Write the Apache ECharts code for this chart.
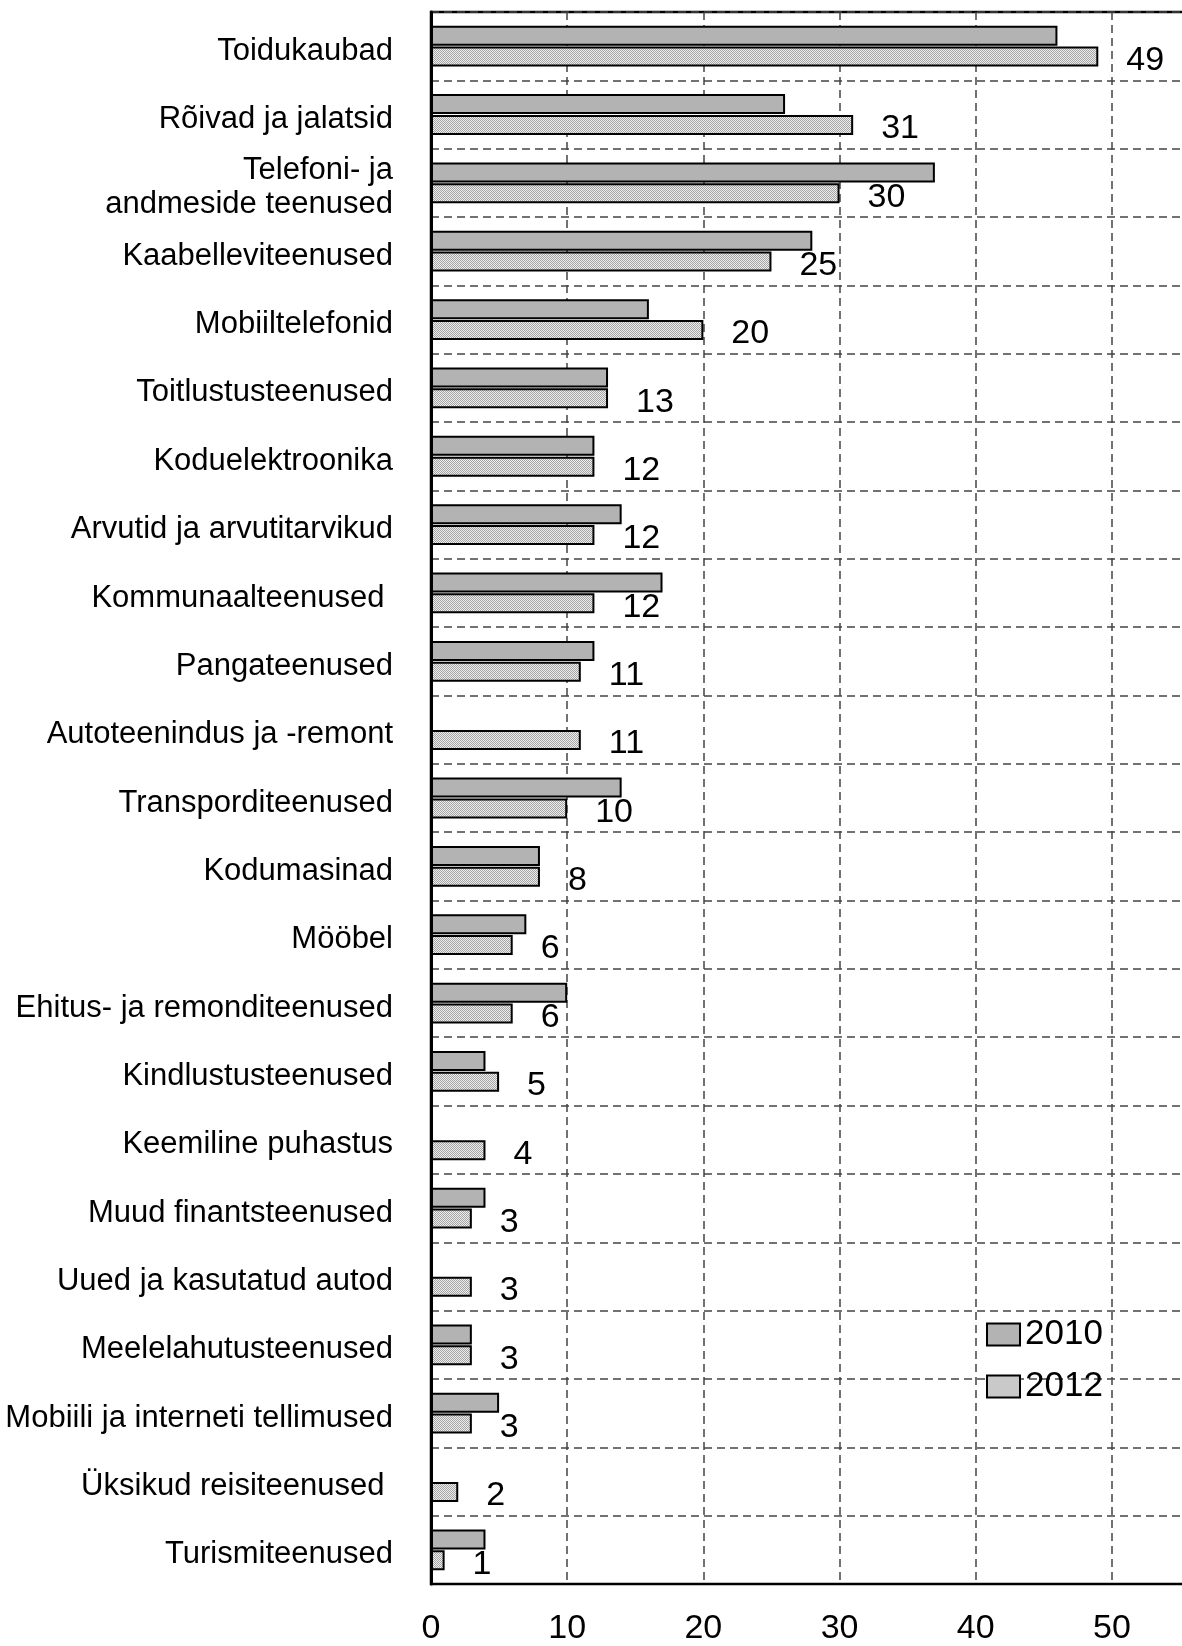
<!DOCTYPE html>
<html>
<head>
<meta charset="utf-8">
<script src="https://cdn.jsdelivr.net/npm/echarts@6/dist/echarts.min.js"></script>
<style>
  html, body { margin: 0; padding: 0; background: #fff; overflow: hidden; }
  #chart { width: 1270px; height: 1646px; }
</style>
</head>
<body>
<div id="chart"></div>
<script>
const categories = [
  'Toidukaubad', 'Rõivad ja jalatsid', 'Telefoni- ja\nandmeside teenused', 'Kaabelleviteenused',
  'Mobiiltelefonid', 'Toitlustusteenused', 'Koduelektroonika', 'Arvutid ja arvutitarvikud',
  'Kommunaalteenused ', 'Pangateenused', 'Autoteenindus ja -remont', 'Transporditeenused',
  'Kodumasinad', 'Mööbel', 'Ehitus- ja remonditeenused', 'Kindlustusteenused',
  'Keemiline puhastus', 'Muud finantsteenused', 'Uued ja kasutatud autod', 'Meelelahutusteenused',
  'Mobiili ja interneti tellimused', 'Üksikud reisiteenused ', 'Turismiteenused'
];
const values2010 = [46, 26, 37, 28, 16, 13, 12, 14, 17, 12, null, 14, 8, 7, 10, 4, null, 4, null, 3, 5, null, 4];
const values2012 = [49, 31, 30, 25, 20, 13, 12, 12, 12, 11, 11, 10, 8, 6, 6, 5, 4, 3, 3, 3, 3, 2, 1];
const xTicks = { min: 0, max: 60, interval: 10 };

// fine dotted fill used for the 2012 bars
const pat = document.createElement('canvas');
pat.width = 2; pat.height = 2;
const pctx = pat.getContext('2d');
pctx.fillStyle = '#eeeeee'; pctx.fillRect(0, 0, 2, 2);
pctx.fillStyle = '#a4a4a4'; pctx.fillRect(0, 0, 1, 1); pctx.fillRect(1, 1, 1, 1);

const font = '"Liberation Sans", Arial, sans-serif';
const chart = echarts.init(document.getElementById('chart'));

// labels sit a little below the row centre, like the original
const catLabel = v => {
  const lines = v.split('\n');
  if (lines.length === 1) return '{p|' + v + '}';
  return '{s| }\n' + lines.map(s => '{q|' + s + '}').join('\n');
};

chart.setOption({
  animation: false,
  textStyle: { fontFamily: font, color: '#000' },
  grid: { left: 431, right: 10, top: 12, bottom: 61, show: true, borderColor: '#000', borderWidth: 2.5 },
  legend: {
    orient: 'vertical',
    left: 981, top: 1312,
    icon: 'rect',
    itemWidth: 33, itemHeight: 22, itemGap: 17,
    textStyle: { fontSize: 35, color: '#000', fontFamily: font },
    data: ['2010', '2012']
  },
  xAxis: {
    type: 'value',
    min: xTicks.min, max: xTicks.max, interval: xTicks.interval,
    axisLine: { show: true, lineStyle: { color: '#000', width: 2 } },
    axisTick: { show: false },
    axisLabel: { fontSize: 34, color: '#000', margin: 28, fontFamily: font },
    splitLine: { show: true, lineStyle: { color: '#444', type: [8, 5], width: 1.5 } }
  },
  yAxis: {
    type: 'category',
    inverse: true,
    data: categories,
    axisLine: { show: true, lineStyle: { color: '#000', width: 3 } },
    axisTick: { show: false },
    axisLabel: {
      fontSize: 31, color: '#000', margin: 38, fontFamily: font,
      formatter: catLabel,
      rich: {
        p: { fontSize: 31, lineHeight: 34, padding: [10, 0, 0, 0], fontFamily: font, color: '#000' },
        q: { fontSize: 31, lineHeight: 34, fontFamily: font, color: '#000' },
        s: { fontSize: 1, lineHeight: 9 }
      }
    },
    splitLine: { show: true, lineStyle: { color: '#444', type: [8, 5], width: 1.5 } }
  },
  series: [
    {
      name: '2010', type: 'bar', data: values2010,
      barWidth: 20, barGap: '4%', barCategoryGap: '40%',
      itemStyle: { color: '#b3b3b3', borderColor: '#000', borderWidth: 2 }
    },
    {
      name: '2012', type: 'bar', data: values2012,
      barWidth: 20,
      itemStyle: { color: { image: pat, repeat: 'repeat' }, borderColor: '#000', borderWidth: 2 },
      label: { show: true, position: 'right', distance: 28, offset: [0, 4], fontSize: 34, color: '#000', fontFamily: font }
    }
  ]
});
</script>
</body>
</html>
